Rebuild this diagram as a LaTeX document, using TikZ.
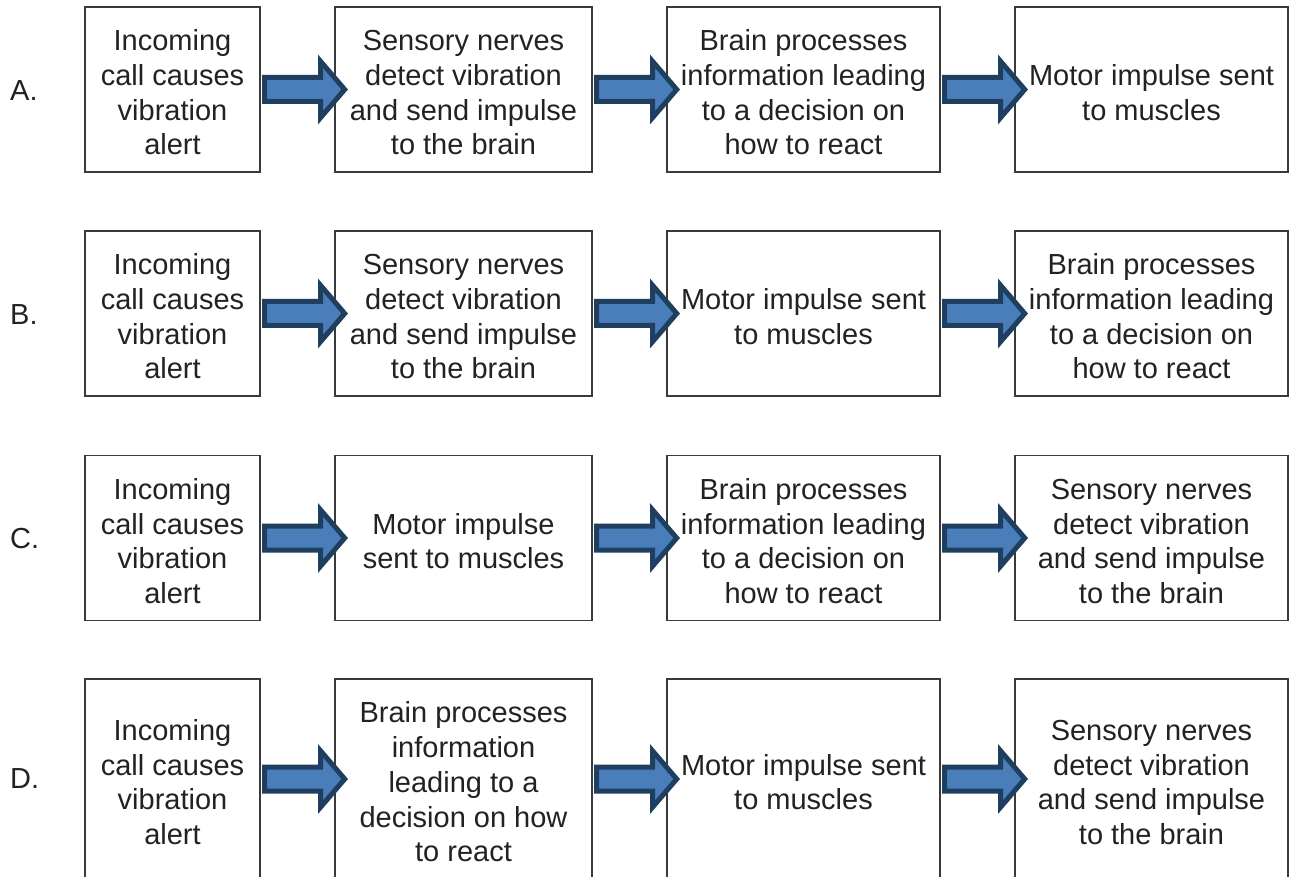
\documentclass[tikz,border=0pt]{standalone}
\usepackage{fontspec}
\setmainfont{Liberation Sans}
\usetikzlibrary{calc}
\definecolor{boxline}{HTML}{3A3A3A}
\definecolor{txt}{HTML}{222222}
\definecolor{arrfill}{HTML}{4A7EBB}
\definecolor{arrline}{HTML}{1F3F61}
\newcommand{\tstrut}{\rule{0pt}{27pt}}
\tikzset{
  stepbox/.style={draw=boxline, line width=1.4pt, inner sep=2pt, outer sep=0pt,
    align=center, text=txt, font=\fontsize{29}{34.7}\selectfont, minimum height=165pt},
  tallbox/.style={minimum height=200pt},
  colA/.style={minimum width=175pt},
  colB/.style={minimum width=257pt},
  colC/.style={minimum width=273pt},
  colD/.style={minimum width=273pt},
  rowlabel/.style={anchor=west, inner sep=0pt, text=txt, font=\fontsize{29}{34.7}\selectfont},
  flowarrow/.style={fill=arrfill, draw=arrline, line width=5pt, line join=miter}
}
\newcommand{\flowarr}[2]{%
  \draw[flowarrow] let \p1=(#1.east), \p2=(#2.west) in
   (\x1+4.5pt,\y1+12pt) -- (\x2-14.3pt,\y1+12pt) -- (\x2-14.3pt,\y1+28pt) --
   (\x2+9.7pt,\y1) -- (\x2-14.3pt,\y1-28pt) -- (\x2-14.3pt,\y1-12pt) --
   (\x1+4.5pt,\y1-12pt) -- cycle;}
\begin{document}
\begin{tikzpicture}[x=1pt,y=-1pt]
\useasboundingbox (0,0) rectangle (1296,877);
\clip (0,0) rectangle (1296,877);
\fill[white] (0,0) rectangle (1296,877);

% Row A
\node[rowlabel] (la) at (10,90.5) {A.};
\node[stepbox,colA] (a1) at (172.5,89.5) {\tstrut Incoming\\call causes\\vibration\\alert};
\node[stepbox,colB] (a2) at (463.5,89.5) {\tstrut Sensory nerves\\detect vibration\\and send impulse\\to the brain};
\node[stepbox,colC] (a3) at (803.5,89.5) {\tstrut Brain processes\\information leading\\to a decision on\\how to react};
\node[stepbox,colD] (a4) at (1151.5,89.5) {\tstrut Motor impulse sent\\to muscles};

% Row B
\node[rowlabel] (lb) at (10,314.5) {B.};
\node[stepbox,colA] (b1) at (172.5,313.5) {\tstrut Incoming\\call causes\\vibration\\alert};
\node[stepbox,colB] (b2) at (463.5,313.5) {\tstrut Sensory nerves\\detect vibration\\and send impulse\\to the brain};
\node[stepbox,colC] (b3) at (803.5,313.5) {\tstrut Motor impulse sent\\to muscles};
\node[stepbox,colD] (b4) at (1151.5,313.5) {\tstrut Brain processes\\information leading\\to a decision on\\how to react};

% Row C
\node[rowlabel] (lc) at (10,539) {C.};
\node[stepbox,colA] (c1) at (172.5,538) {\tstrut Incoming\\call causes\\vibration\\alert};
\node[stepbox,colB] (c2) at (463.5,538) {\tstrut Motor impulse\\sent to muscles};
\node[stepbox,colC] (c3) at (803.5,538) {\tstrut Brain processes\\information leading\\to a decision on\\how to react};
\node[stepbox,colD] (c4) at (1151.5,538) {\tstrut Sensory nerves\\detect vibration\\and send impulse\\to the brain};

% Row D
\node[rowlabel] (ld) at (10,779) {D.};
\node[stepbox,tallbox,colA] (d1) at (172.5,779) {\tstrut Incoming\\call causes\\vibration\\alert};
\node[stepbox,tallbox,colB] (d2) at (463.5,779) {\tstrut Brain processes\\information\\leading to a\\decision on how\\to react};
\node[stepbox,tallbox,colC] (d3) at (803.5,779) {\tstrut Motor impulse sent\\to muscles};
\node[stepbox,tallbox,colD] (d4) at (1151.5,779) {\tstrut Sensory nerves\\detect vibration\\and send impulse\\to the brain};

% Arrows
\flowarr{a1}{a2}\flowarr{a2}{a3}\flowarr{a3}{a4}
\flowarr{b1}{b2}\flowarr{b2}{b3}\flowarr{b3}{b4}
\flowarr{c1}{c2}\flowarr{c2}{c3}\flowarr{c3}{c4}
\flowarr{d1}{d2}\flowarr{d2}{d3}\flowarr{d3}{d4}
\end{tikzpicture}
\end{document}
